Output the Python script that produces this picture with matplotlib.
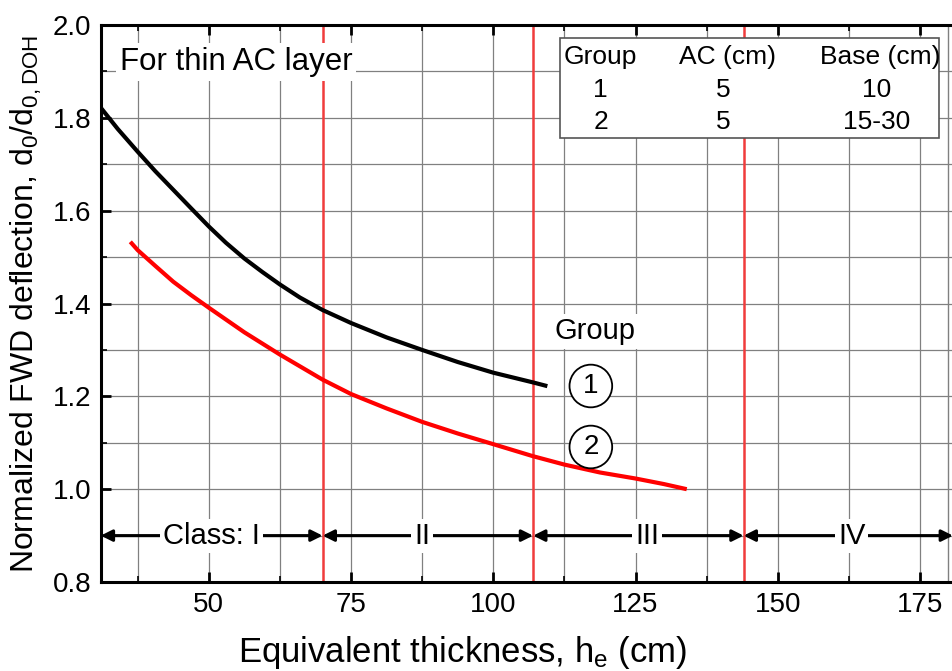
import matplotlib
matplotlib.use("Agg")
import matplotlib.pyplot as plt
from matplotlib.ticker import MultipleLocator, FormatStrFormatter
from matplotlib.patches import Rectangle

plt.rcParams['font.family'] = ['Liberation Sans', 'DejaVu Sans']
plt.rcParams['mathtext.fontset'] = 'custom'
plt.rcParams['mathtext.rm'] = 'Liberation Sans'
plt.rcParams['mathtext.it'] = 'Liberation Sans'
plt.rcParams['mathtext.default'] = 'regular'

# ---- data ----
g1_x = [31, 34, 37.5, 40.6, 43.75, 46.9, 50, 53, 56.25, 59.4, 62.5, 66, 70, 75, 81.25, 87.5, 93.75, 100, 107, 109.5]
g1_y = [1.822, 1.776, 1.727, 1.685, 1.645, 1.605, 1.566, 1.531, 1.497, 1.468, 1.441, 1.413, 1.386, 1.358, 1.327, 1.300, 1.274, 1.251, 1.230, 1.222]
g2_x = [36.2, 37.5, 40.6, 43.75, 46.9, 50, 56.25, 62.5, 70, 75, 81.25, 87.5, 93.75, 100, 107, 112.5, 118.75, 125, 130, 134]
g2_y = [1.533, 1.515, 1.481, 1.447, 1.418, 1.391, 1.338, 1.290, 1.236, 1.205, 1.174, 1.145, 1.120, 1.097, 1.071, 1.053, 1.036, 1.023, 1.011, 1.0]
class_bounds = [31, 70, 107, 144, 180.8]
class_labels = ["Class: I", "II", "III", "IV"]
class_label_x = [50.5, 87.5, 127, 163]
class_y = 0.9
table_header = ["Group", "AC (cm)", "Base (cm)"]
table_rows = [["1", "5", "10"], ["2", "5", "15-30"]]
xlim = (31, 180.8)
ylim = (0.8, 2.0)

# pixel -> data helpers for placing annotations like the reference
def px2x(p):
    return 31 + (p - 100.7) / 5.688

def px2y(p):
    return 2.0 - (p - 25) / 464.2

fig = plt.figure(figsize=(9.53, 6.71), dpi=100)
ax = fig.add_axes([0.1057, 0.1326, 0.8943, 0.8301])
ax.set_xlim(*xlim)
ax.set_ylim(*ylim)

ax.xaxis.set_major_locator(MultipleLocator(25))
ax.xaxis.set_minor_locator(MultipleLocator(12.5))
ax.yaxis.set_major_locator(MultipleLocator(0.2))
ax.yaxis.set_minor_locator(MultipleLocator(0.1))
ax.yaxis.set_major_formatter(FormatStrFormatter('%.1f'))
ax.grid(True, which='both', color='#808080', linewidth=0.9, zorder=0)
ax.tick_params(which='major', direction='in', length=7, width=2, labelsize=20, pad=7,
               top=True, right=False)
ax.tick_params(which='minor', direction='in', length=4, width=1.2, top=True, right=False)
for s in ['left', 'bottom', 'top']:
    ax.spines[s].set_linewidth(2.2)
ax.spines['right'].set_visible(False)
ax.axvline(180, color='#808080', linewidth=1.0, zorder=0)

# class boundaries
for xb in class_bounds[1:4]:
    ax.axvline(xb, color='#f03c3c', linewidth=1.8, zorder=2)

# curves
ax.plot(g1_x, g1_y, color='black', linewidth=3, zorder=4, solid_capstyle='butt')
ax.plot(g2_x, g2_y, color='#ff0000', linewidth=3, zorder=4, solid_capstyle='butt')

# class arrows
for i in range(4):
    ax.annotate('', xy=(class_bounds[i], class_y), xytext=(class_bounds[i + 1], class_y),
                arrowprops=dict(arrowstyle='<|-|>', color='black', lw=2.2,
                                shrinkA=0, shrinkB=0, mutation_scale=17), zorder=5)
    ax.text(class_label_x[i], class_y, class_labels[i], ha='center', va='center', fontsize=21,
            bbox=dict(boxstyle='square,pad=0.1', fc='white', ec='none'), zorder=6)

# annotations
ax.text(px2x(120), px2y(62), "For thin AC layer", fontsize=22.5,
        ha='left', va='center',
        bbox=dict(boxstyle='square,pad=0.12', fc='white', ec='none'), zorder=6)

ax.text(px2x(595), px2y(331), "Group", ha='center', va='center', fontsize=21,
        bbox=dict(boxstyle='square,pad=0.12', fc='white', ec='none'), zorder=6)
for lab, yy in [("1", px2y(386)), ("2", px2y(447))]:
    ax.text(px2x(590.7), yy, lab, ha='center', va='center', fontsize=20,
            bbox=dict(boxstyle='circle,pad=0.3', fc='white', ec='black', lw=1.3), zorder=6)

# table box
x0, x1 = px2x(560), px2x(939)
y_top, y_bot = px2y(38), px2y(138)
ax.add_patch(Rectangle((x0, y_bot), x1 - x0, y_top - y_bot, fc='white', ec='#555555',
                       lw=1.2, zorder=7))
col_x = [px2x(600.5), px2x(727), px2x(880)]
val_x = [px2x(600.5), px2x(723), px2x(876)]
row_y = [px2y(57), px2y(90), px2y(122)]
for j, h in enumerate(table_header):
    ax.text(col_x[j], row_y[0], h, ha='center', va='center', fontsize=19, zorder=8)
for i, row in enumerate(table_rows):
    for j, v in enumerate(row):
        ax.text(val_x[j], row_y[i + 1], v, ha='center', va='center', fontsize=19, zorder=8)

ax.set_xlabel("Equivalent thickness, h$_e$ (cm)", fontsize=25)
ax.xaxis.label.set_va('baseline')
ax.xaxis.set_label_coords(0.425, -(662 - 582) / 557)
ax.set_ylabel("Normalized FWD deflection, d$_0$/d$_{0,DOH}$", fontsize=23, labelpad=6)

fig.savefig("out.png", dpi=100)
